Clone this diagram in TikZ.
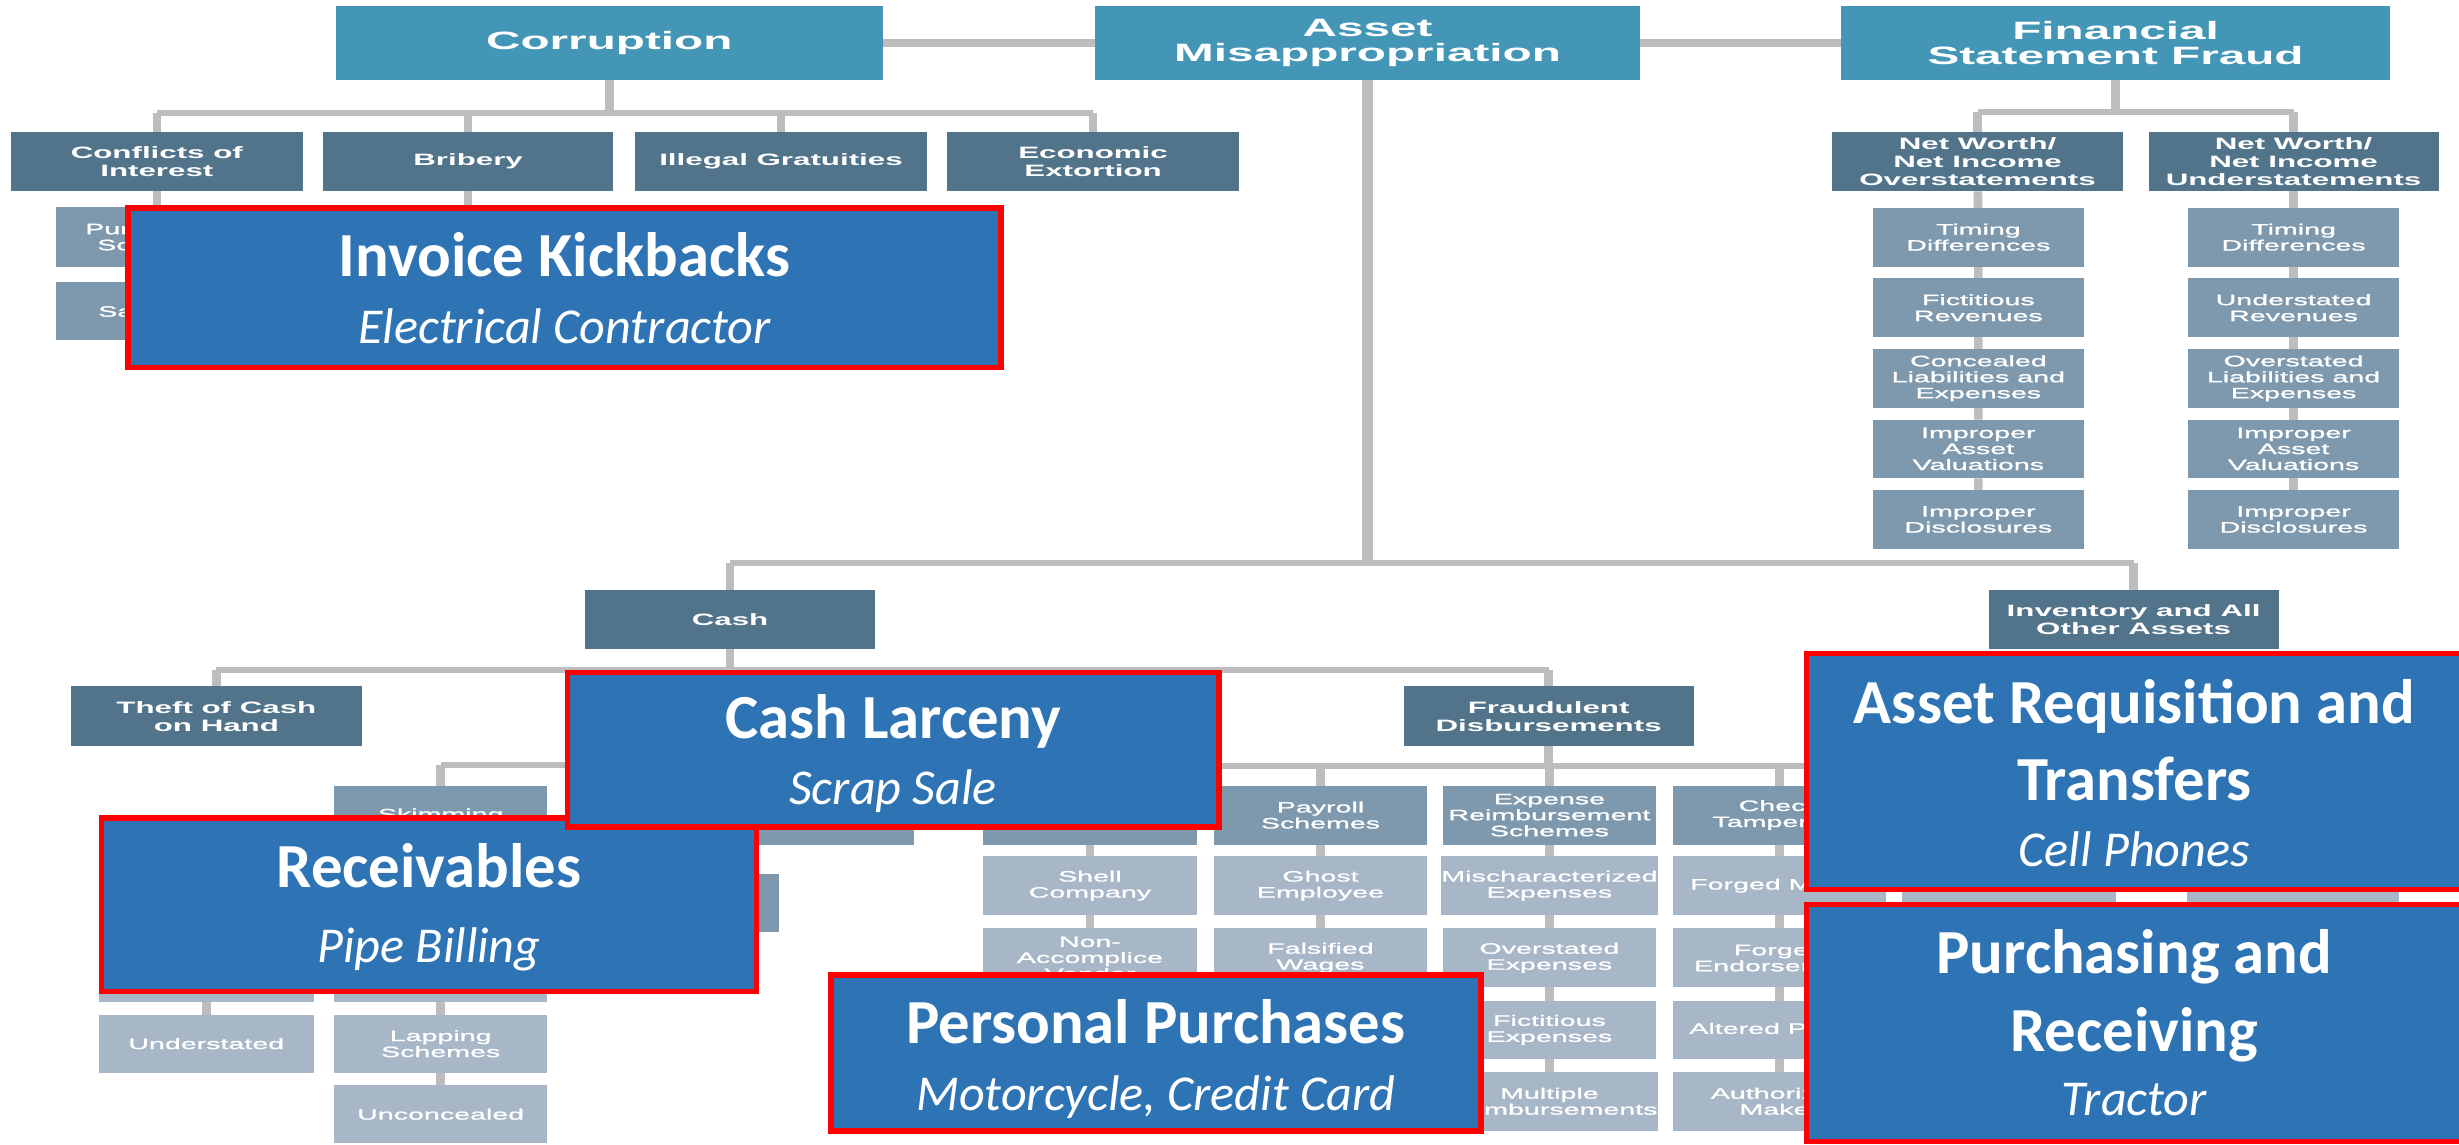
\documentclass[tikz,border=0pt]{standalone}
\usepackage{fontspec}
\setmainfont{Carlito}
\newfontfamily\chartb{Liberation Sans}[FakeStretch=1.9]
\newfontfamily\chartm{Liberation Sans}[FakeStretch=1.9,FakeBold=1.3]
\usetikzlibrary{backgrounds}
\definecolor{topc}{HTML}{4496B6}
\definecolor{darkc}{HTML}{51748A}
\definecolor{medc}{HTML}{7E99AE}
\definecolor{lightc}{HTML}{A8B7C7}
\definecolor{connc}{HTML}{BDBDC0}
\definecolor{calloutc}{HTML}{2E74B5}
\definecolor{redc}{HTML}{FF0000}
\tikzset{
  box/.style={inner sep=0pt, outer sep=0pt, align=center, text=white},
  topbox/.style={box, fill=topc, font=\chartb\bfseries\fontsize{16}{15.7}\selectfont},
  darkbox/.style={box, fill=darkc, font=\chartb\bfseries\fontsize{10.5}{11.5}\selectfont},
  medbox/.style={box, fill=medc, font=\chartm\fontsize{9.6}{10.2}\selectfont},
  lightbox/.style={box, fill=lightc, font=\chartm\fontsize{9.6}{10.2}\selectfont},
  conn/.style={draw=connc, line cap=square},
  vconn/.style={conn, line width=5.5pt},
  hconn/.style={conn, line width=3.8pt},
  mainconn/.style={conn, line width=6.5pt},
  topconn/.style={conn, line width=4.8pt},
  callout/.style={fill=calloutc, draw=redc, line width=3.5pt, inner sep=0pt, outer sep=0pt},
  chead/.style={text=white, font=\bfseries\fontsize{40}{48}\selectfont, inner sep=0pt, anchor=base},
  csub/.style={text=white, font=\itshape\fontsize{32}{38}\selectfont, inner sep=0pt, anchor=base},
}
% box by corners: name, style, x1, y1, x2, y2, text
\newcommand\bx[7]{\node[#2, minimum width={(#5)-(#3)}, minimum height={(#6)-(#4)}] (#1) at ({((#3)+(#5))/2},{((#4)+(#6))/2}) {#7};}
% callout by outer corners
\newcommand\co[5]{\node[callout, minimum width={(#4)-(#2)-3.5}, minimum height={(#5)-(#3)-3.5}] (#1) at ({((#2)+(#4))/2},{((#3)+(#5))/2}) {};}
\begin{document}
\begin{tikzpicture}[x=1pt,y=-1pt]
\useasboundingbox (0,0) rectangle (1568,730);

% ---------- top row ----------
\bx{corr}{topbox}{214}{4}{563}{51}{Corruption}
\bx{am}{topbox}{698}{4}{1046}{51}{Asset\\Misappropriation}
\bx{fsf}{topbox}{1174}{4}{1524}{51}{Financial\\Statement Fraud}

% ---------- corruption ----------
\bx{coi}{darkbox}{7}{84}{193}{122}{Conflicts of\\Interest}
\bx{bri}{darkbox}{206}{84}{391}{122}{Bribery}
\bx{ig}{darkbox}{405}{84}{591}{122}{Illegal Gratuities}
\bx{ee}{darkbox}{604}{84}{790}{122}{Economic\\Extortion}
\bx{ps}{medbox}{36}{132}{164}{170}{Purchasing\\Schemes}
\bx{ss}{medbox}{36}{180}{164}{217}{\makebox[0pt]{\hspace{52pt}Sales Schemes}}
\coordinate (bric) at (298.5,150);
\coordinate (corrbar) at (0,72);

% ---------- financial statement fraud ----------
\bx{nwo}{darkbox}{1168}{84}{1354}{122}{Net Worth/\\Net Income\\Overstatements}
\bx{nwu}{darkbox}{1370}{84}{1555}{122}{Net Worth/\\Net Income\\Understatements}
\bx{o1}{medbox}{1194}{132.5}{1329}{170}{Timing\\Differences}
\bx{o2}{medbox}{1194}{177.5}{1329}{215}{Fictitious\\Revenues}
\bx{o3}{medbox}{1194}{222.5}{1329}{260}{Concealed\\Liabilities and\\Expenses}
\bx{o4}{medbox}{1194}{267.5}{1329}{305}{Improper\\Asset\\Valuations}
\bx{o5}{medbox}{1194}{312.5}{1329}{350}{Improper\\Disclosures}
\bx{u1}{medbox}{1395}{132.5}{1530}{170}{Timing\\Differences}
\bx{u2}{medbox}{1395}{177.5}{1530}{215}{Understated\\Revenues}
\bx{u3}{medbox}{1395}{222.5}{1530}{260}{Overstated\\Liabilities and\\Expenses}
\bx{u4}{medbox}{1395}{267.5}{1530}{305}{Improper\\Asset\\Valuations}
\bx{u5}{medbox}{1395}{312.5}{1530}{350}{Improper\\Disclosures}
\coordinate (fsfbar) at (0,71.5);

% ---------- asset misappropriation ----------
\coordinate (amj) at (872,359);
\bx{cash}{darkbox}{373}{376}{558}{414}{Cash}
\bx{inv}{darkbox}{1268}{376}{1453}{414}{Inventory and All\\Other Assets}
\coordinate (cashbar) at (0,427);
\bx{tcoh}{darkbox}{45}{437.5}{231}{476}{Theft of Cash\\on Hand}
\coordinate (tcr) at (465.5,457);
\bx{fd}{darkbox}{895}{437.5}{1080}{476}{Fraudulent\\Disbursements}

% cash receipts
\coordinate (tcrbar) at (0,488);
\bx{skim}{medbox}{213}{501}{349}{539}{Skimming}
\bx{clb}{medbox}{447}{501}{583}{539}{}
\coordinate (skbar) at (0,548);
\bx{sales}{medbox}{63}{557}{200}{594}{}
\bx{recv}{medbox}{213}{557}{349}{594}{}
\bx{ref}{medbox}{361}{557}{497}{594}{}
\bx{unrec}{lightbox}{63}{602}{200}{639}{}
\bx{wo}{lightbox}{213}{602}{349}{639}{}
\bx{und}{lightbox}{63}{647}{200}{684}{Understated}
\bx{lap}{lightbox}{213}{647}{349}{684}{Lapping\\Schemes}
\bx{unc}{lightbox}{213}{692}{349}{729}{Unconcealed}

% fraudulent disbursements
\coordinate (fdbar) at (0,488.5);
\bx{a1}{medbox}{627}{501}{763}{538.5}{}
\bx{a2}{lightbox}{627}{546}{763}{583.5}{Shell\\Company}
\bx{a3}{lightbox}{627}{592}{763}{629.5}{Non-\\Accomplice\\Vendor}
\bx{a4}{lightbox}{627}{638}{763}{675.5}{}
\bx{b1}{medbox}{774}{501}{910}{538.5}{Payroll\\Schemes}
\bx{b2}{lightbox}{774}{546}{910}{583.5}{Ghost\\Employee}
\bx{b3}{lightbox}{774}{592}{910}{629.5}{Falsified\\Wages}
\bx{b4}{lightbox}{774}{638}{910}{675.5}{}
\bx{c1}{medbox}{920}{501}{1056}{538.5}{Expense\\Reimbursement\\Schemes}
\bx{c2}{lightbox}{920}{546}{1056}{583.5}{Mischaracterized\\Expenses}
\bx{c3}{lightbox}{920}{592}{1056}{629.5}{Overstated\\Expenses}
\bx{c4}{lightbox}{920}{638}{1056}{675.5}{Fictitious\\Expenses}
\bx{c5}{lightbox}{920}{683.5}{1056}{721}{Multiple\\Reimbursements}
\bx{d1}{medbox}{1066.5}{501}{1202.5}{538.5}{Check\\Tampering}
\bx{d2}{lightbox}{1066.5}{546}{1202.5}{583.5}{Forged Maker}
\bx{d3}{lightbox}{1066.5}{592}{1202.5}{629.5}{Forged\\Endorsement}
\bx{d4}{lightbox}{1066.5}{638}{1202.5}{675.5}{Altered Payee}
\bx{d5}{lightbox}{1066.5}{683.5}{1202.5}{721}{Authorized\\Maker}
\bx{e1}{medbox}{1213}{501}{1349}{538.5}{}
\bx{e2}{lightbox}{1213}{546}{1349}{583.5}{}
\bx{e3}{lightbox}{1213}{592}{1349}{629.5}{}
\bx{f1}{medbox}{1394.5}{501}{1530}{538.5}{}
\bx{f2}{lightbox}{1394.5}{546}{1530}{583.5}{}
\bx{f3}{lightbox}{1394.5}{592}{1530}{629.5}{}

% ---------- connectors ----------
\begin{pgfonlayer}{background}
\fill[white] (0,0) rectangle (1568,730);
\draw[topconn] (corr) -- (am);
\draw[topconn] (am) -- (fsf);
% corruption
\draw[vconn, line width=6pt] (corr) -- (corr.south |- corrbar);
\draw[hconn] (coi.north |- corrbar) -- (ee.north |- corrbar);
\foreach \n in {coi,bri,ig,ee} \draw[vconn] (\n) -- (\n.north |- corrbar);
\draw[vconn] (coi) -- (ps);
\draw[vconn] (ps) -- (ss);
\draw[vconn] (bri) -- (bric);
% fsf
\draw[vconn, line width=6pt] (fsf) -- (fsf.south |- fsfbar);
\draw[hconn] (nwo.north |- fsfbar) -- (nwu.north |- fsfbar);
\draw[vconn] (nwo) -- (nwo.north |- fsfbar);
\draw[vconn] (nwu) -- (nwu.north |- fsfbar);
\draw[vconn] (nwo) -- (o1) (o1) -- (o2) (o2) -- (o3) (o3) -- (o4) (o4) -- (o5);
\draw[vconn] (nwu) -- (u1) (u1) -- (u2) (u2) -- (u3) (u3) -- (u4) (u4) -- (u5);
% asset misappropriation
\draw[mainconn] (am) -- (amj);
\draw[hconn] (cash.north |- amj) -- (inv.north |- amj);
\draw[vconn] (cash) -- (cash.north |- amj);
\draw[vconn] (inv) -- (inv.north |- amj);
% cash
\draw[vconn] (cash) -- (cash.south |- cashbar);
\draw[hconn] (tcoh.north |- cashbar) -- (fd.north |- cashbar);
\draw[vconn] (tcoh) -- (tcoh.north |- cashbar);
\draw[vconn] (fd) -- (fd.north |- cashbar);
\draw[vconn] (tcr |- cashbar) -- (tcr |- tcrbar);
\draw[hconn] (skim.north |- tcrbar) -- (clb.north |- tcrbar);
\draw[vconn] (skim) -- (skim.north |- tcrbar);
\draw[vconn] (clb) -- (clb.north |- tcrbar);
\draw[vconn] (skim) -- (skim.south |- skbar);
\draw[hconn] (sales.north |- skbar) -- (ref.north |- skbar);
\foreach \n in {sales,recv,ref} \draw[vconn] (\n) -- (\n.north |- skbar);
\draw[vconn] (sales) -- (unrec) (unrec) -- (und);
\draw[vconn] (recv) -- (wo) (wo) -- (lap) (lap) -- (unc);
% fraudulent disbursements
\draw[vconn] (fd) -- (fd.south |- fdbar);
\draw[hconn] (a1.north |- fdbar) -- (e1.north |- fdbar);
\foreach \n in {a1,b1,c1,d1,e1} \draw[vconn] (\n) -- (\n.north |- fdbar);
\draw[vconn] (a1) -- (a2) (a2) -- (a3) (a3) -- (a4);
\draw[vconn] (b1) -- (b2) (b2) -- (b3) (b3) -- (b4);
\draw[vconn] (c1) -- (c2) (c2) -- (c3) (c3) -- (c4) (c4) -- (c5);
\draw[vconn] (d1) -- (d2) (d2) -- (d3) (d3) -- (d4) (d4) -- (d5);
\draw[vconn] (e1) -- (e2) (e2) -- (e3);
\draw[vconn] (f1) -- (f2) (f2) -- (f3);
\end{pgfonlayer}

% ---------- callouts ----------
\co{ik}{80}{131}{640}{236}
\node[chead] (ikh) at (360,176.4) {Invoice Kickbacks};
\node[csub] (iks) at (360,219) {Electrical Contractor};

\co{rv}{63}{520}{484}{634}
\node[chead] (rvh) at (273.5,566) {Receivables};
\node[csub] (rvs) at (273.5,614) {Pipe Billing};

\co{cl}{360}{427}{779}{529}
\node[chead] (clh) at (569.5,470.8) {Cash Larceny};
\node[csub] (cls) at (569.5,513.3) {Scrap Sale};

\co{pp}{528}{620}{946}{723}
\node[chead] (pph) at (737,665.4) {Personal Purchases};
\node[csub] (pps) at (737,708) {Motorcycle, Credit Card};

\co{ar}{1150}{415}{1572}{569}
\node[chead] (arh1) at (1361,461.6) {Asset Requisition and};
\node[chead] (arh2) at (1361,510.3) {Transfers};
\node[csub] (ars) at (1361,552.3) {Cell Phones};

\co{pr}{1150}{575}{1572}{729.5}
\node[chead] (prh1) at (1361,620.7) {Purchasing and};
\node[chead] (prh2) at (1361,670.6) {Receiving};
\node[csub] (prs) at (1361,711) {Tractor};
\end{tikzpicture}
\end{document}
